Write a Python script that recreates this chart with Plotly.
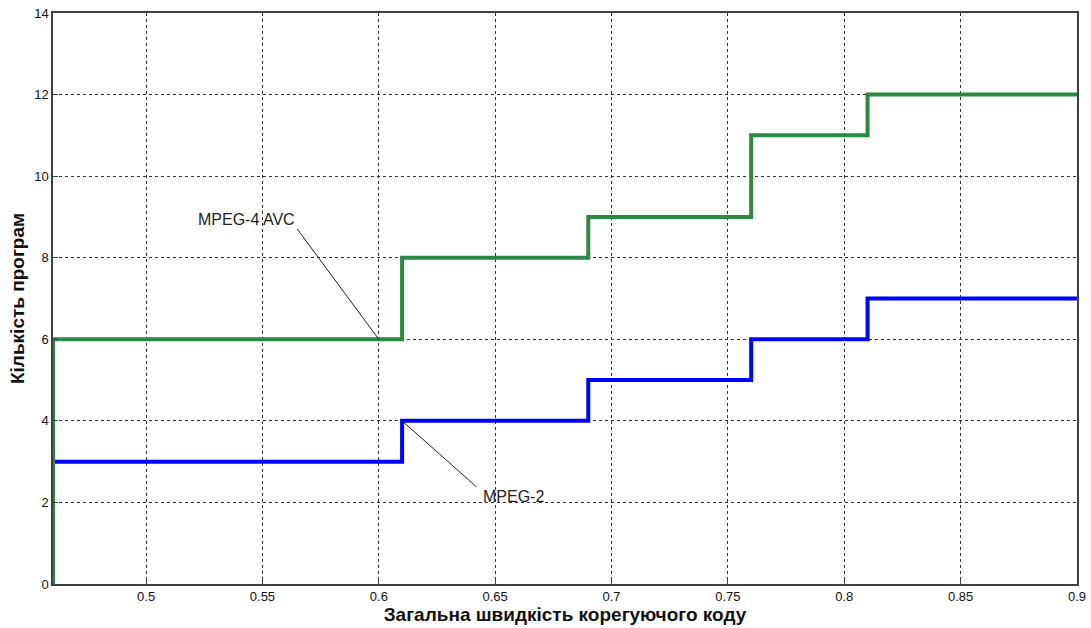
import plotly.graph_objects as go

# Step data (rate thresholds) and program counts
rates = [0.46, 0.46, 0.61, 0.69, 0.76, 0.81, 0.9]
mpeg4_avc = [0, 6, 8, 9, 11, 12, 12]
mpeg2 = [0, 3, 4, 5, 6, 7, 7]

x_ticks = [0.5, 0.55, 0.6, 0.65, 0.7, 0.75, 0.8, 0.85, 0.9]
x_tick_text = ["0.5", "0.55", "0.6", "0.65", "0.7", "0.75", "0.8", "0.85", "0.9"]
y_ticks = [0, 2, 4, 6, 8, 10, 12, 14]

fig = go.Figure()
fig.add_trace(go.Scatter(x=rates, y=mpeg2, mode="lines", line_shape="hv",
                         line=dict(color="#0000ff", width=4), name="MPEG-2"))
fig.add_trace(go.Scatter(x=rates, y=mpeg4_avc, mode="lines", line_shape="hv",
                         line=dict(color="#2a8a45", width=4), name="MPEG-4 AVC"))

fig.add_shape(type="line", xref="x", yref="y", x0=0.6, y0=6, x1=0.565, y1=8.7,
              line=dict(color="#222222", width=1))
fig.add_shape(type="line", xref="x", yref="y", x0=0.61, y0=4, x1=0.642, y1=2.38,
              line=dict(color="#222222", width=1))
fig.add_annotation(x=0.543, y=8.93, xref="x", yref="y", text="MPEG-4 AVC", showarrow=False,
                   font=dict(family="Arial, Liberation Sans", size=16, color="#222222"))
fig.add_annotation(x=0.6577, y=2.14, xref="x", yref="y", text="MPEG-2", showarrow=False,
                   font=dict(family="Arial, Liberation Sans", size=16, color="#222222"))

axis_common = dict(showline=True, linecolor="#404040", linewidth=1.5, mirror=True,
                   ticks="inside", ticklen=5, tickcolor="#404040",
                   showgrid=True, gridcolor="#333333", gridwidth=1, griddash="3px,3px",
                   zeroline=False, automargin=False, ticklabeloverflow="allow",
                   tickfont=dict(family="Arial, Liberation Sans", size=13, color="#111111"))

fig.update_layout(
    width=1091, height=628,
    margin=dict(l=53, r=14, t=13, b=44),
    paper_bgcolor="white", plot_bgcolor="white",
    showlegend=False,
    xaxis=dict(range=[0.46, 0.9], tickvals=x_ticks, ticktext=x_tick_text,
               title=dict(text="<b>Загальна швидкість корегуючого коду</b>", standoff=4,
                          font=dict(family="Arial, Liberation Sans", size=19, color="#111111")),
               **axis_common),
    yaxis=dict(range=[0, 14], tickvals=y_ticks,
               title=dict(text="<b>Кількість програм</b>", standoff=5,
                          font=dict(family="Arial, Liberation Sans", size=19, color="#111111")),
               **axis_common),
)

fig.write_html("out.html", config={"displayModeBar": False},
               post_script="document.body.style.margin='0px';")
